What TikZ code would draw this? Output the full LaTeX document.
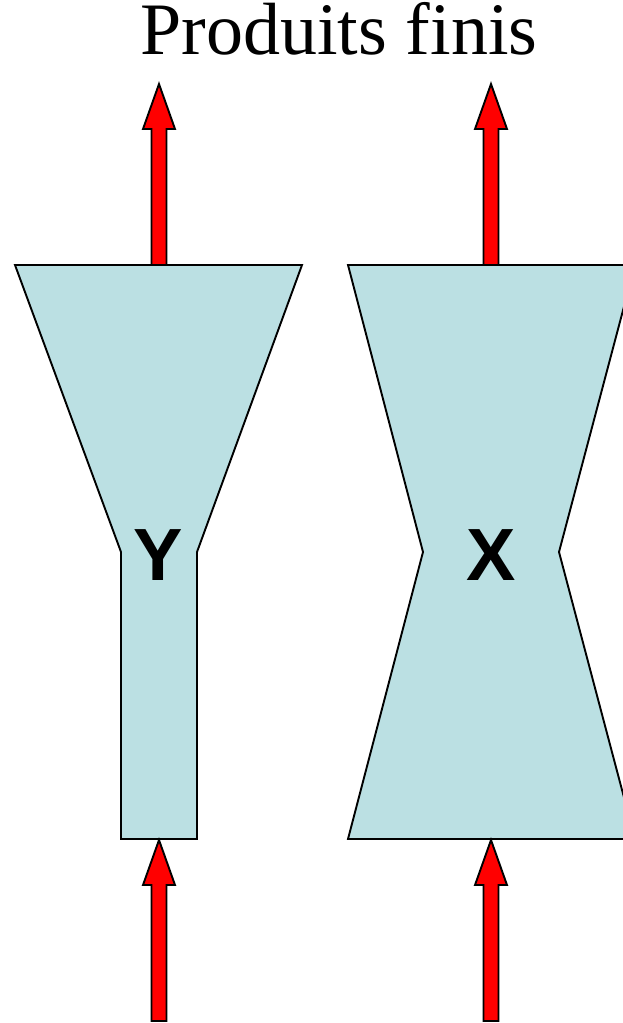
\documentclass[tikz,border=0pt]{standalone}
\usepackage{fontspec}
\setmainfont{Liberation Serif}
\newfontfamily\lettersans{Liberation Sans}
\definecolor{shapeblue}{HTML}{BBE0E3}
\tikzset{
  vessel/.style={draw=black, line width=1.9pt, fill=shapeblue, line join=miter},
  blockarrow/.style={draw=black, line width=1.9pt, fill=red, line join=miter},
  bigletter/.style={font=\lettersans\bfseries\fontsize{74}{74}\selectfont, inner sep=0pt},
  titletext/.style={font=\fontsize{74}{74}\selectfont, inner sep=0pt, anchor=base}
}
\begin{document}
\begin{tikzpicture}[x=1pt,y=-1pt]
\useasboundingbox (0,0) rectangle (623,1023);
\begin{scope}
\clip (0,0) rectangle (623,1023);
% Y vessel
\draw[vessel] (15,265) -- (302,265) -- (197,552) -- (197,839) -- (121,839) -- (121,552) -- cycle;
% X vessel
\draw[vessel] (348,265) -- (635,265) -- (559,552) -- (635,839) -- (348,839) -- (423,552) -- cycle;
% top arrows
\draw[blockarrow] (151.5,265) -- (151.5,129) -- (143,129) -- (159,84) -- (175,129) -- (166.5,129) -- (166.5,265) -- cycle;
\draw[blockarrow] (483.5,265) -- (483.5,129) -- (475,129) -- (491,84) -- (507,129) -- (498.5,129) -- (498.5,265) -- cycle;
% bottom arrows
\draw[blockarrow] (151.5,1021) -- (151.5,885) -- (143,885) -- (159,840) -- (175,885) -- (166.5,885) -- (166.5,1021) -- cycle;
\draw[blockarrow] (483.5,1021) -- (483.5,885) -- (475,885) -- (491,840) -- (507,885) -- (498.5,885) -- (498.5,1021) -- cycle;
\end{scope}
% letters
\node[bigletter] (Y) at (158,555) {Y};
\node[bigletter] (X) at (491,555) {X};
% title
\node[titletext] (title) at (339,54) {Produits finis};
\end{tikzpicture}
\end{document}
